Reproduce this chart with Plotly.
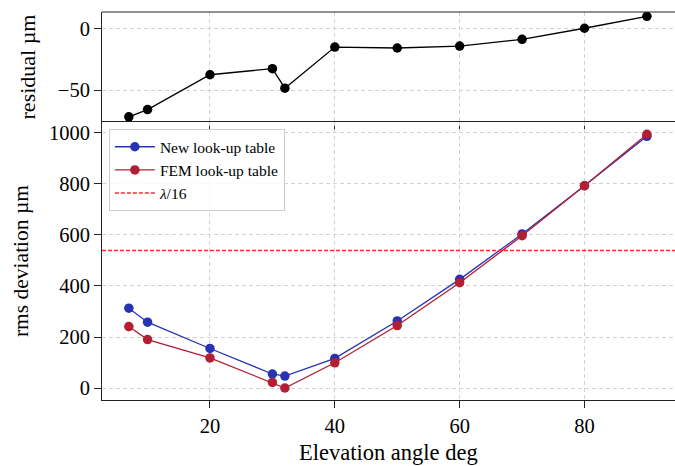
import plotly.graph_objects as go
from plotly.subplots import make_subplots

elevation = [7, 10, 20, 30, 32, 40, 50, 60, 70, 80, 90]
residual = [-72, -66, -37.5, -32.5, -48.5, -14.8, -15.6, -14.0, -8.5, 0.6, 10.4]
new_lut = [313, 258, 155, 55, 47, 116, 263, 426, 604, 793, 987]
fem_lut = [241, 190, 118, 22, 0, 99, 245, 413, 597, 793, 995]
lambda16 = 539

FONT = "Liberation Serif, Times New Roman, serif"
BLUE = "#2832b4"
RED = "#b41e32"
DASHRED = "#ff2a2a"

fig = make_subplots(rows=2, cols=1, shared_xaxes=True, vertical_spacing=0,
                    row_heights=[0.2835, 0.7165])

fig.add_trace(go.Scatter(x=elevation, y=residual, mode="lines+markers",
                         line=dict(color="black", width=1.3),
                         marker=dict(color="black", size=9.5),
                         showlegend=False), row=1, col=1)
fig.add_trace(go.Scatter(x=elevation, y=new_lut, mode="lines+markers",
                         name="New look-up table",
                         line=dict(color=BLUE, width=1.3),
                         marker=dict(color=BLUE, size=9.5)), row=2, col=1)
fig.add_trace(go.Scatter(x=elevation, y=fem_lut, mode="lines+markers",
                         name="FEM look-up table",
                         line=dict(color=RED, width=1.3),
                         marker=dict(color=RED, size=9.5)), row=2, col=1)
fig.add_trace(go.Scatter(x=[None], y=[None], mode="lines", name="<i>λ</i>/16",
                         line=dict(color=DASHRED, width=1.4, dash="4px,2px")),
              row=2, col=1)
fig.add_hline(y=lambda16, line=dict(color=DASHRED, width=1.4, dash="4px,2px"),
              row=2, col=1)

xrange = [2.7, 94.5]
axis_common = dict(linecolor="#222222", linewidth=1,
                   ticks="outside", ticklen=7, tickcolor="#222222", tickwidth=1,
                   showgrid=True, gridcolor="#d2d2d2", griddash="4px,3px",
                   gridwidth=1, zeroline=False, automargin=False,
                   tickfont=dict(family=FONT, size=20.5, color="black"))

fig.update_xaxes(range=xrange, tickvals=[20, 40, 60, 80], **axis_common)
fig.update_xaxes(showline=False, row=1, col=1)
fig.update_xaxes(showline=True, mirror=True, row=2, col=1)
fig.update_yaxes(showline=True, **axis_common)
fig.update_yaxes(range=[-76.2, 13.9], tickvals=[-50, 0],
                 title=dict(text="residual µm", font=dict(family=FONT, size=22, color="black"),
                            standoff=16), row=1, col=1)
fig.update_yaxes(range=[-47, 1043], tickvals=[0, 200, 400, 600, 800, 1000],
                 title=dict(text="rms deviation µm", font=dict(family=FONT, size=21.5, color="black"),
                            standoff=14), row=2, col=1)

# top frame line of the upper panel
fig.add_shape(type="line", xref="paper", yref="paper", x0=0, x1=1, y0=1, y1=1,
              line=dict(color="#222222", width=1))

fig.add_annotation(text="Elevation angle deg", xref="paper", yref="paper",
                   x=0.5, y=-0.099, xanchor="center", yanchor="top", showarrow=False,
                   font=dict(family=FONT, size=22.5, color="black"))

fig.update_layout(
    width=675, height=466,
    margin=dict(l=102, r=0, t=12, b=66),
    plot_bgcolor="white", paper_bgcolor="white",
    font=dict(family=FONT, color="black"),
    legend=dict(x=0.012, y=0.698, xanchor="left", yanchor="top",
                bgcolor="rgba(255,255,255,0.85)", bordercolor="#cccccc", borderwidth=1,
                font=dict(family=FONT, size=15.5, color="black"),
                tracegroupgap=0, itemwidth=40),
)

fig.write_html("out.html")
